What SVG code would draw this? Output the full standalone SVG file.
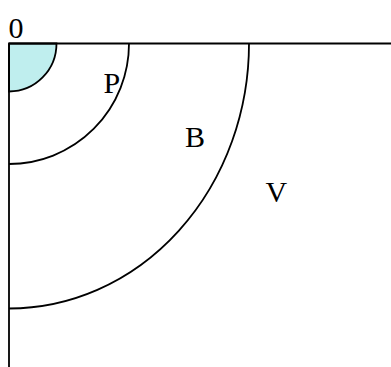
<svg xmlns="http://www.w3.org/2000/svg" width="391" height="367" viewBox="0 0 391 367">
<style>
.ln{fill:none;stroke:#000;stroke-width:1.8}
.lb{font-family:"Liberation Serif","Times New Roman",serif;font-size:30px;fill:#000}
</style>
<rect width="391" height="367" fill="#fff"/>
<g id="core"><path d="M9,43.5 L56.5,43.5 A47.5,48 0 0 1 9,91.5 Z" fill="#bfeeee" stroke="#000" stroke-width="1.8"/></g>
<g id="arcP"><path class="ln" d="M129,43.5 A120,120.5 0 0 1 9,164"/></g>
<g id="arcB"><path class="ln" d="M249,43.5 A240,265 0 0 1 9,308.5"/></g>
<g id="axes"><path class="ln" d="M9,43.5 H391 M9,43.5 V367"/></g>
<g id="labels">
<text class="lb" x="8.5" y="38.3">0</text>
<text class="lb" x="103.5" y="93.3">P</text>
<text class="lb" x="185" y="147.3">B</text>
<text class="lb" x="265.5" y="202.3">V</text>
</g>
</svg>
